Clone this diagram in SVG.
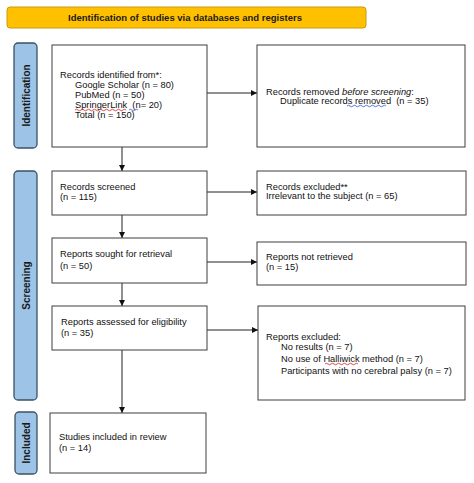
<svg xmlns="http://www.w3.org/2000/svg" width="474" height="483" viewBox="0 0 474 483">
<defs>
<style>
.box{fill:#fff;stroke:#3f3f3f;stroke-width:1}
.side{fill:#9dc3e6;stroke:#3b5266;stroke-width:1.3}
.t{font-family:"Liberation Sans",Arial,sans-serif;font-size:9.3px;fill:#111;white-space:pre}
.b{font-family:"Liberation Sans",Arial,sans-serif;font-size:9.5px;font-weight:bold;fill:#1a1a1a}
.sb{font-family:"Liberation Sans",Arial,sans-serif;font-size:10px;font-weight:bold;fill:#1a1a1a}
.con{stroke:#222;stroke-width:1;fill:none;marker-end:url(#ah)}
.sq{fill:none;stroke-width:0.8}
</style>
<marker id="ah" viewBox="0 0 8 8" refX="8" refY="4" markerWidth="6" markerHeight="6" markerUnits="userSpaceOnUse" orient="auto">
<path d="M0,0 L8,4 L0,8 z" fill="#111"/>
</marker>
</defs>
<rect width="474" height="483" fill="#fff"/>
<g id="banner">
<rect x="7" y="7" width="359" height="21" rx="3" fill="#ffc000" stroke="#c99a10" stroke-width="1"/>
<text class="b" x="185" y="20.5" text-anchor="middle">Identification of studies via databases and registers</text>
</g>
<g id="side-identification">
<rect class="side" x="14" y="43" width="23" height="105" rx="4"/>
<text class="sb" transform="translate(29.5,95.5) rotate(-90)" text-anchor="middle">Identification</text>
</g>
<g id="side-screening">
<rect class="side" x="14" y="171" width="23" height="229" rx="4"/>
<text class="sb" transform="translate(29.5,285.5) rotate(-90)" text-anchor="middle">Screening</text>
</g>
<g id="side-included">
<rect class="side" x="15" y="412" width="22" height="62" rx="4"/>
<text class="sb" transform="translate(29.5,443) rotate(-90)" text-anchor="middle">Included</text>
</g>
<g id="connectors">
<line class="con" x1="207" y1="93" x2="257" y2="93"/>
<line class="con" x1="122" y1="147" x2="122" y2="171"/>
<line class="con" x1="207" y1="192" x2="257" y2="192"/>
<line class="con" x1="122" y1="215" x2="122" y2="238"/>
<line class="con" x1="207" y1="262" x2="257" y2="262"/>
<line class="con" x1="122" y1="283" x2="122" y2="306"/>
<line class="con" x1="207" y1="330" x2="258" y2="330"/>
<line class="con" x1="122" y1="350" x2="122" y2="413"/>
</g>
<g id="records-identified">
<rect class="box" x="52" y="45" width="155" height="102"/>
<text class="t" x="60" y="78">Records identified from*:</text>
<text class="t" x="75" y="88">Google Scholar (n = 80)</text>
<text class="t" x="75" y="98">PubMed (n = 50)</text>
<text class="t" x="75" y="108">SpringerLink  (n= 20)</text>
<text class="t" x="75" y="118">Total (n = 150)</text>
<path class="sq" stroke="#d02020" d="M75,110 q1.5,-1.5 3,0 t3,0 t3,0 t3,0 t3,0 t3,0 t3,0 t3,0 t3,0 t3,0 t3,0 t3,0 t3,0 t3,0 t3,0 t3,0 t3,0"/>
<path class="sq" stroke="#3050d0" d="M129,110 q1.5,-1.5 3,0 t3,0 t3,0"/>
</g>
<g id="records-removed">
<rect class="box" x="257" y="45" width="208" height="102"/>
<text class="t" x="266" y="95">Records removed <tspan font-style="italic">before screening</tspan>:</text>
<text class="t" x="280" y="104">Duplicate records removed  (n = 35)</text>
<path class="sq" stroke="#3050d0" d="M347,106 q1.5,-1.5 3,0 t3,0 t3,0 t3,0 t3,0 t3,0 t3,0 t3,0 t3,0 t3,0 t3,0 t3,0 t3,0"/>
</g>
<g id="records-screened">
<rect class="box" x="52" y="171" width="155" height="44"/>
<text class="t" x="60" y="190">Records screened</text>
<text class="t" x="60" y="200">(n = 115)</text>
</g>
<g id="records-excluded">
<rect class="box" x="257" y="171" width="209" height="44"/>
<text class="t" x="266" y="190">Records excluded**</text>
<text class="t" x="266" y="199">Irrelevant to the subject (n = 65)</text>
</g>
<g id="reports-sought">
<rect class="box" x="52" y="238" width="155" height="45"/>
<text class="t" x="60" y="257">Reports sought for retrieval</text>
<text class="t" x="60" y="269">(n = 50)</text>
</g>
<g id="reports-not-retrieved">
<rect class="box" x="257" y="242" width="209" height="43"/>
<text class="t" x="266" y="260">Reports not retrieved</text>
<text class="t" x="266" y="270">(n = 15)</text>
</g>
<g id="reports-assessed">
<rect class="box" x="52" y="306" width="155" height="44"/>
<text class="t" x="61" y="325">Reports assessed for eligibility</text>
<text class="t" x="61" y="336">(n = 35)</text>
</g>
<g id="reports-excluded">
<rect class="box" x="258" y="306" width="207" height="94"/>
<text class="t" x="266" y="340">Reports excluded:</text>
<text class="t" x="281" y="350">No results (n = 7)</text>
<text class="t" x="281" y="362">No use of Halliwick method (n = 7)</text>
<text class="t" x="281" y="374">Participants with no cerebral palsy (n = 7)</text>
<path class="sq" stroke="#d02020" d="M325,364 q1.5,-1.5 3,0 t3,0 t3,0 t3,0 t3,0 t3,0 t3,0 t3,0 t3,0 t3,0 t3,0"/>
</g>
<g id="studies-included">
<rect class="box" x="50" y="413" width="156" height="60"/>
<text class="t" x="59" y="440">Studies included in review</text>
<text class="t" x="59" y="451">(n = 14)</text>
</g>
</svg>
